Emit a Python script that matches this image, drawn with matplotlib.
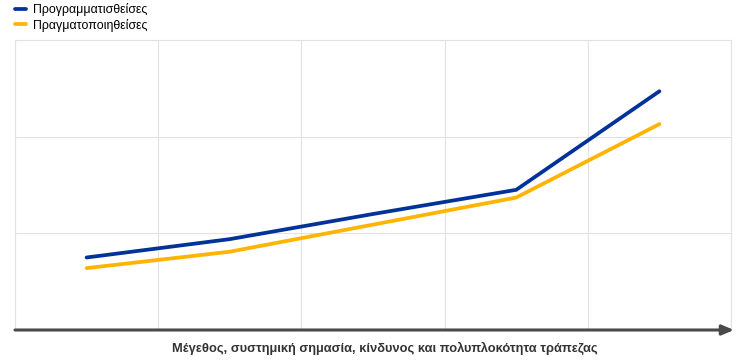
import matplotlib.pyplot as plt
import numpy as np

plt.rcParams['font.family'] = ['Liberation Sans', 'DejaVu Sans']

categories = [0, 1, 2, 3, 4]
programmed = [0.75, 0.94, 1.20, 1.45, 2.47]
actual = [0.64, 0.81, 1.09, 1.37, 2.13]
labels = ['Προγραμματισθείσες', 'Πραγματοποιηθείσες']
xlabel = 'Μέγεθος, συστημική σημασία, κίνδυνος και πολυπλοκότητα τράπεζας'

blue = '#003299'
yellow = '#ffb400'

fig = plt.figure(figsize=(7.42, 3.6), dpi=100)
ax = fig.add_axes([15 / 742, 30 / 360, 716 / 742, 290 / 360])

x = np.array(categories)
ax.plot(x, programmed, color=blue, lw=2.7, solid_capstyle='round', label=labels[0], zorder=3)
ax.plot(x, actual, color=yellow, lw=2.7, solid_capstyle='round', label=labels[1], zorder=3)

ax.set_xlim(-0.5, 4.5)
ax.set_ylim(0, 3)
ax.set_xticks(np.arange(-0.5, 5, 1))
ax.set_yticks([1, 2, 3])
ax.tick_params(length=0, labelbottom=False, labelleft=False)
ax.grid(True, color='#e2e2e2', lw=0.8)
for side in ['top', 'right', 'left']:
    ax.spines[side].set_color('#e2e2e2')
    ax.spines[side].set_linewidth(0.8)
ax.spines['bottom'].set_visible(False)

# axis arrow
ax.annotate('', xy=(1.004, 0), xytext=(0, 0), xycoords='axes fraction',
            arrowprops=dict(arrowstyle='-|>,head_length=0.7,head_width=0.3',
                            color='#4a4a4a', lw=2.2, shrinkA=0, shrinkB=0),
            annotation_clip=False, zorder=5)

# axis label, a little right of centre as in the original
fig.text(385 / 742, 1 - 348 / 360, xlabel, fontsize=9.3, fontweight='bold',
         color='#333333', ha='center', va='center')

fig.legend(loc='upper left', bbox_to_anchor=(10 / 742, 1 + 2 / 360), frameon=False,
           fontsize=8.9, handlelength=0.9, handletextpad=0.6, labelspacing=0.22,
           borderaxespad=0)

fig.savefig('out.png', dpi=100)
